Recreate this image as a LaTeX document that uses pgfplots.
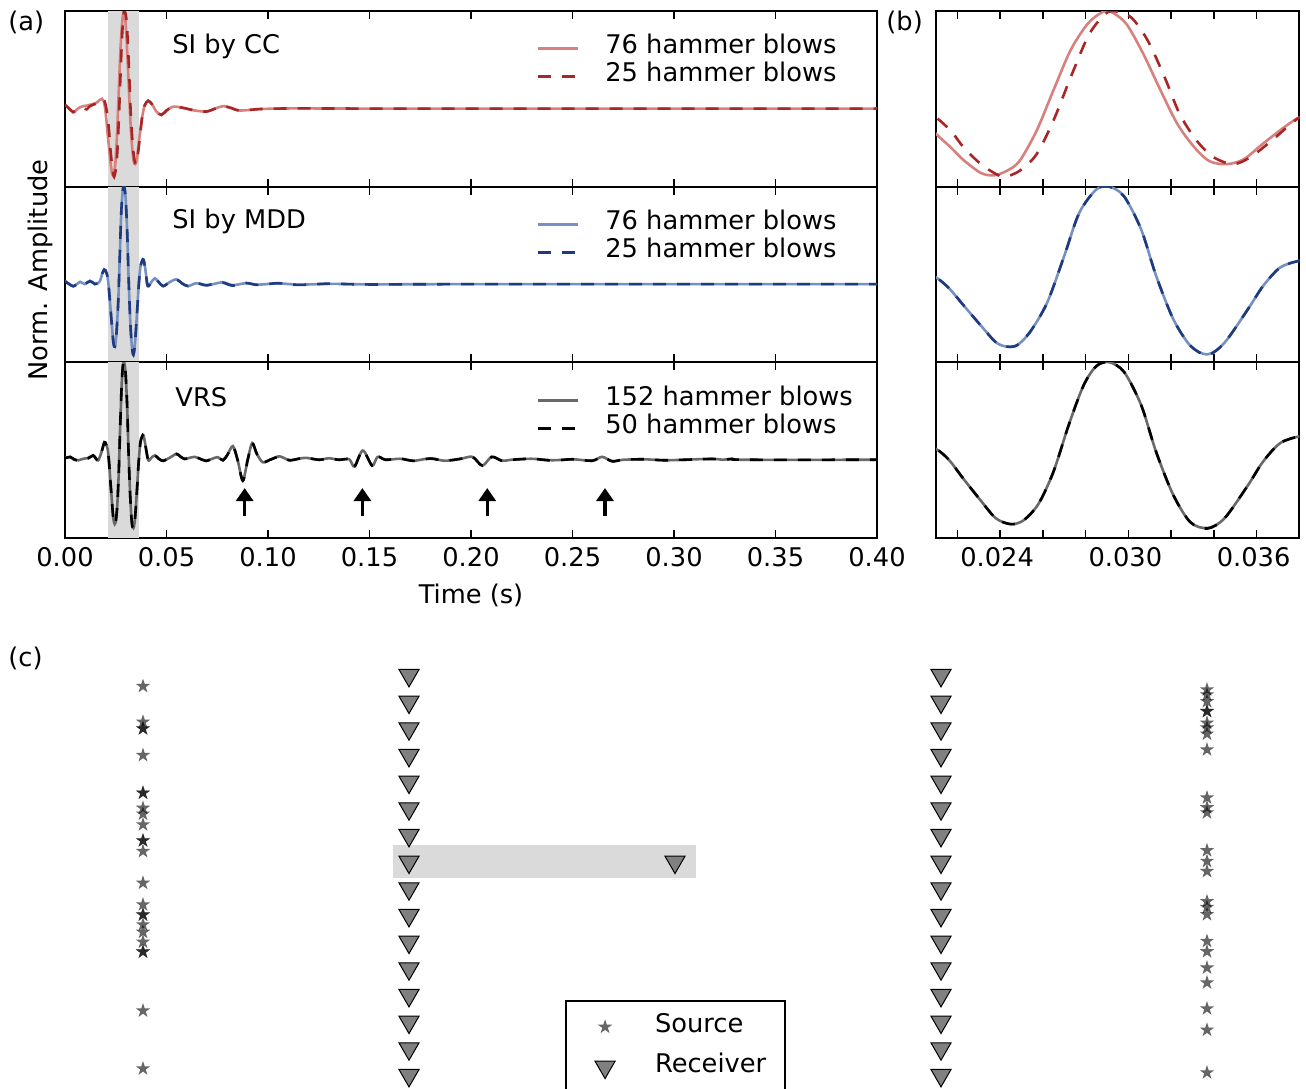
\documentclass[border=0pt]{standalone}
\usepackage{fontspec}
\setmainfont{DejaVu Sans}
\usepackage{pgfplots}
\pgfplotsset{compat=1.18}
\usepackage{pgfplotstable}
\usetikzlibrary{arrows.meta}

\definecolor{ccL}{RGB}{216,128,126}
\definecolor{ccD}{RGB}{168,38,38}
\definecolor{mdL}{RGB}{118,144,192}
\definecolor{mdD}{RGB}{30,58,128}
\definecolor{vrL}{RGB}{105,105,105}
\definecolor{vrD}{RGB}{0,0,0}
\definecolor{win}{RGB}{218,218,218}

\pgfdeclareplotmark{fstar}{%
  \pgfpathmoveto{\pgfpointpolar{90}{\pgfplotmarksize}}%
  \pgfpathlineto{\pgfpointpolar{126}{0.382\pgfplotmarksize}}%
  \pgfpathlineto{\pgfpointpolar{162}{\pgfplotmarksize}}%
  \pgfpathlineto{\pgfpointpolar{198}{0.382\pgfplotmarksize}}%
  \pgfpathlineto{\pgfpointpolar{234}{\pgfplotmarksize}}%
  \pgfpathlineto{\pgfpointpolar{270}{0.382\pgfplotmarksize}}%
  \pgfpathlineto{\pgfpointpolar{306}{\pgfplotmarksize}}%
  \pgfpathlineto{\pgfpointpolar{342}{0.382\pgfplotmarksize}}%
  \pgfpathlineto{\pgfpointpolar{18}{\pgfplotmarksize}}%
  \pgfpathlineto{\pgfpointpolar{54}{0.382\pgfplotmarksize}}%
  \pgfpathclose
  \pgfusepathqfill}

% ---------------- data ----------------
\pgfplotstableread{
t v
0.0000 0.040
0.0020 0.000
0.0041 -0.040
0.0058 -0.010
0.0074 0.014
0.0090 0.025
0.0107 0.030
0.0125 0.040
0.0139 0.048
0.0155 0.060
0.0172 0.090
0.0182 0.100
0.0190 0.080
0.0197 0.010
0.0204 -0.120
0.0210 -0.260
0.0217 -0.400
0.0223 -0.530
0.0231 -0.660
0.0237 -0.685
0.0243 -0.640
0.0249 -0.540
0.0257 -0.230
0.0265 0.190
0.0273 0.600
0.0281 0.870
0.0288 0.990
0.0292 0.990
0.0299 0.870
0.0307 0.560
0.0315 0.190
0.0323 -0.160
0.0331 -0.400
0.0338 -0.540
0.0346 -0.570
0.0354 -0.520
0.0363 -0.360
0.0373 -0.190
0.0380 -0.090
0.0392 0.030
0.0410 0.080
0.0430 0.040
0.0450 -0.030
0.0475 -0.065
0.0500 -0.020
0.0533 0.020
0.0582 0.007
0.0640 -0.020
0.0697 -0.030
0.0740 0.000
0.0779 0.025
0.0820 0.005
0.0861 -0.020
0.0960 -0.005
0.1058 0.000
0.1200 0.002
0.1500 0.000
0.4000 0.000
}\ccA

\pgfplotstableread{
t v
0.0000 0.040
0.0020 0.000
0.0041 -0.035
0.0058 -0.010
0.0074 0.010
0.0090 0.005
0.0107 -0.008
0.0120 0.020
0.0139 0.040
0.0155 0.050
0.0172 0.085
0.0185 0.100
0.0195 0.075
0.0203 0.010
0.0210 -0.090
0.0217 -0.230
0.0223 -0.400
0.0231 -0.570
0.0238 -0.670
0.0242 -0.700
0.0249 -0.640
0.0257 -0.470
0.0265 -0.120
0.0273 0.320
0.0281 0.735
0.0287 0.920
0.0292 1.000
0.0301 0.940
0.0309 0.700
0.0317 0.320
0.0324 -0.055
0.0332 -0.330
0.0340 -0.500
0.0349 -0.570
0.0357 -0.500
0.0367 -0.330
0.0380 -0.090
0.0392 0.030
0.0410 0.080
0.0430 0.040
0.0450 -0.030
0.0475 -0.065
0.0500 -0.020
0.0533 0.020
0.0582 0.007
0.0640 -0.020
0.0697 -0.030
0.0740 0.000
0.0779 0.025
0.0820 0.005
0.0861 -0.020
0.0960 -0.005
0.1058 0.000
0.1200 0.002
0.1500 0.000
0.4000 0.000
}\ccB

\pgfplotstableread{
t v
0.0000 0.035
0.0020 0.005
0.0041 -0.020
0.0058 0.000
0.0074 0.024
0.0086 0.012
0.0098 0.000
0.0111 0.020
0.0123 0.035
0.0135 0.018
0.0147 0.000
0.0160 0.005
0.0172 0.030
0.0184 0.110
0.0193 0.150
0.0200 0.140
0.0205 0.110
0.0210 0.070
0.0216 -0.040
0.0223 -0.220
0.0231 -0.425
0.0238 -0.595
0.0243 -0.640
0.0248 -0.625
0.0254 -0.490
0.0262 -0.190
0.0270 0.290
0.0277 0.730
0.0285 0.970
0.0291 1.000
0.0298 0.900
0.0306 0.560
0.0313 0.085
0.0321 -0.357
0.0329 -0.630
0.0337 -0.720
0.0345 -0.600
0.0356 -0.255
0.0363 -0.020
0.0371 0.170
0.0380 0.240
0.0387 0.250
0.0396 0.150
0.0405 0.000
0.0412 -0.020
0.0425 0.020
0.0443 0.060
0.0462 0.020
0.0484 -0.020
0.0515 0.020
0.0549 0.050
0.0575 0.010
0.0606 -0.020
0.0647 0.010
0.0696 -0.010
0.0740 0.005
0.0778 0.020
0.0827 -0.010
0.0892 0.010
0.0950 -0.005
0.1050 0.008
0.1150 -0.005
0.1300 0.003
0.1500 -0.002
0.2000 0.000
0.4000 0.000
}\mdA

\pgfplotstableread{
t v
0.0000 0.030
0.0020 0.000
0.0041 -0.022
0.0058 0.000
0.0074 0.020
0.0086 0.015
0.0098 0.002
0.0111 0.018
0.0123 0.030
0.0135 0.020
0.0147 0.002
0.0160 0.008
0.0172 0.030
0.0184 0.110
0.0193 0.150
0.0200 0.140
0.0205 0.110
0.0210 0.070
0.0216 -0.040
0.0223 -0.220
0.0231 -0.425
0.0238 -0.595
0.0243 -0.640
0.0248 -0.625
0.0254 -0.490
0.0262 -0.190
0.0270 0.290
0.0277 0.730
0.0285 0.970
0.0291 1.000
0.0298 0.900
0.0306 0.560
0.0313 0.085
0.0321 -0.357
0.0329 -0.630
0.0337 -0.725
0.0345 -0.600
0.0356 -0.255
0.0363 -0.020
0.0371 0.170
0.0380 0.240
0.0387 0.250
0.0396 0.150
0.0405 0.000
0.0412 -0.020
0.0425 0.020
0.0443 0.060
0.0462 0.020
0.0484 -0.020
0.0515 0.020
0.0549 0.050
0.0575 0.010
0.0606 -0.020
0.0647 0.010
0.0696 -0.012
0.0740 0.008
0.0778 0.015
0.0827 -0.015
0.0892 0.012
0.0950 -0.008
0.1050 0.010
0.1150 -0.008
0.1300 0.005
0.1500 -0.003
0.2000 0.000
0.4000 0.000
}\mdB

\pgfplotstableread{
t v
0.0000 0.020
0.0025 0.027
0.0045 0.000
0.0066 -0.005
0.0090 0.010
0.0115 0.020
0.0139 0.045
0.0152 0.015
0.0164 -0.005
0.0180 0.080
0.0194 0.180
0.0202 0.160
0.0210 0.110
0.0216 0.000
0.0223 -0.200
0.0231 -0.420
0.0238 -0.600
0.0245 -0.660
0.0251 -0.620
0.0258 -0.450
0.0265 -0.120
0.0272 0.350
0.0279 0.760
0.0285 0.960
0.0291 1.000
0.0298 0.900
0.0306 0.560
0.0313 0.080
0.0321 -0.360
0.0329 -0.640
0.0337 -0.700
0.0345 -0.600
0.0356 -0.260
0.0363 -0.020
0.0371 0.170
0.0380 0.240
0.0387 0.250
0.0396 0.150
0.0410 -0.005
0.0425 0.020
0.0443 0.045
0.0462 0.010
0.0484 -0.010
0.0515 0.020
0.0549 0.060
0.0570 0.030
0.0590 0.010
0.0615 0.020
0.0639 0.030
0.0665 0.010
0.0696 -0.010
0.0725 0.010
0.0753 0.027
0.0778 -0.005
0.0800 0.050
0.0827 0.140
0.0850 0.000
0.0876 -0.210
0.0900 0.000
0.0922 0.170
0.0945 0.060
0.0974 -0.025
0.1010 0.000
0.1056 0.035
0.1105 -0.005
0.1150 0.010
0.1187 0.020
0.1250 0.000
0.1300 0.015
0.1350 0.000
0.1400 0.005
0.1426 -0.070
0.1467 0.095
0.1513 -0.060
0.1540 0.030
0.1580 0.000
0.1650 0.010
0.1720 -0.010
0.1800 0.015
0.1870 -0.010
0.1950 0.010
0.2007 0.030
0.2056 -0.060
0.2102 0.030
0.2154 -0.010
0.2200 0.000
0.2300 0.010
0.2400 -0.005
0.2500 0.005
0.2597 -0.010
0.2646 0.030
0.2695 -0.015
0.2750 0.000
0.2850 0.005
0.2950 -0.005
0.3050 0.000
0.3187 0.010
0.3240 0.000
0.3286 0.010
0.3350 0.000
0.4000 0.000
}\vrA

\pgfplotstableread{
t v
0.0000 0.015
0.0025 0.030
0.0045 0.005
0.0066 -0.008
0.0090 0.012
0.0115 0.015
0.0139 0.045
0.0152 0.012
0.0164 -0.005
0.0180 0.080
0.0194 0.180
0.0202 0.160
0.0210 0.110
0.0216 0.000
0.0223 -0.200
0.0231 -0.420
0.0238 -0.600
0.0245 -0.660
0.0251 -0.620
0.0258 -0.450
0.0265 -0.120
0.0272 0.350
0.0279 0.760
0.0285 0.960
0.0291 1.000
0.0298 0.900
0.0306 0.560
0.0313 0.080
0.0321 -0.360
0.0329 -0.640
0.0337 -0.705
0.0345 -0.600
0.0356 -0.260
0.0363 -0.020
0.0371 0.170
0.0380 0.240
0.0387 0.250
0.0396 0.150
0.0410 -0.005
0.0425 0.020
0.0443 0.045
0.0462 0.010
0.0484 -0.012
0.0515 0.020
0.0549 0.060
0.0570 0.030
0.0590 0.008
0.0615 0.020
0.0639 0.032
0.0665 0.010
0.0696 -0.012
0.0725 0.010
0.0753 0.025
0.0778 -0.005
0.0800 0.050
0.0827 0.140
0.0850 0.000
0.0876 -0.215
0.0900 0.000
0.0922 0.170
0.0945 0.060
0.0974 -0.025
0.1010 0.000
0.1056 0.030
0.1105 -0.005
0.1150 0.010
0.1187 0.020
0.1250 0.000
0.1300 0.012
0.1350 0.000
0.1400 0.005
0.1426 -0.070
0.1467 0.095
0.1513 -0.060
0.1540 0.030
0.1580 0.000
0.1650 0.012
0.1720 -0.012
0.1800 0.012
0.1870 -0.010
0.1950 0.010
0.2007 0.030
0.2056 -0.060
0.2102 0.030
0.2154 -0.012
0.2200 0.000
0.2300 0.010
0.2400 -0.008
0.2500 0.005
0.2597 -0.010
0.2646 0.030
0.2695 -0.015
0.2750 0.000
0.2850 0.005
0.2950 -0.005
0.3050 0.000
0.3187 0.008
0.3240 0.000
0.3286 0.008
0.3350 0.000
0.4000 0.000
}\vrB

\pgfplotstableread{
x y
-2 -0.41
-2 -1.75
-2 -2.00
-2 -2.00
-2 -3.00
-2 -4.41
-2 -4.41
-2 -4.98
-2 -5.20
-2 -5.60
-2 -6.20
-2 -6.20
-2 -6.60
-2 -7.79
-2 -8.60
-2 -8.98
-2 -8.98
-2 -9.35
-2 -9.63
-2 -10.00
-2 -10.37
-2 -10.37
-2 -12.58
-2 -14.75
}\srcL

\pgfplotstableread{
x y
2 -0.54
2 -0.73
2 -0.98
2 -1.35
2 -1.35
2 -1.79
2 -1.97
2 -2.20
2 -2.79
2 -4.59
2 -4.96
2 -5.15
2 -6.57
2 -6.97
2 -7.35
2 -8.48
2 -8.70
2 -8.97
2 -9.97
2 -10.36
2 -10.97
2 -11.53
2 -12.50
2 -13.30
2 -14.90
}\srcR

\pgfplotstableread{
x y
-1 0
-1 -1
-1 -2
-1 -3
-1 -4
-1 -5
-1 -6
-1 -7
-1 -8
-1 -9
-1 -10
-1 -11
-1 -12
-1 -13
-1 -14
-1 -15
-1 -16
}\recL

\pgfplotstableread{
x y
1 0
1 -1
1 -2
1 -3
1 -4
1 -5
1 -6
1 -7
1 -8
1 -9
1 -10
1 -11
1 -12
1 -13
1 -14
1 -15
1 -16
}\recR

\pgfplotsset{
  apanel/.style={scale only axis, width=406pt, height=87.8pt,
    xmin=0, xmax=0.4, ymin=-0.8, ymax=1.0,
    xtick={0,0.05,0.1,0.15,0.2,0.25,0.3,0.35,0.4}, ytick=\empty,
    xticklabels={}, xtick align=inside, scaled x ticks=false,
    tick style={black, line width=0.8pt}, major tick length=4pt,
    axis line style={line width=1pt},
    legend cell align=left,
    legend image code/.code={\draw[##1] (0pt,0pt) -- (20pt,0pt);},
    legend style={draw=none, fill=none, inner sep=0pt, row sep=0pt,
      nodes={inner sep=0pt, text height=9.5pt, text depth=4.5pt, anchor=west},
      /tikz/every odd column/.append style={column sep=13pt}},
  },
  bpanel/.style={scale only axis, width=181.65pt, height=87.8pt,
    xmin=0.021, xmax=0.038, ymin=-0.8, ymax=1.0,
    xtick={0.024,0.030,0.036}, minor xtick={0.022,0.026,0.028,0.032,0.034},
    ytick=\empty, xticklabels={}, xtick align=inside, scaled x ticks=false,
    tick style={black, line width=0.8pt}, major tick length=4pt, minor tick length=4pt,
    axis line style={line width=1pt},
  },
  markleg/.style={legend image code/.code={\path[draw=none,fill=none] (-10pt,-5pt) rectangle (10pt,5pt); \draw[##1] plot coordinates {(0pt,0pt)};}},
  solidtr/.style={line width=1.3pt, smooth},
  dashtr/.style={line width=1.3pt, smooth, dash pattern=on 6.5pt off 5.5pt},
}

\begin{document}
\fontsize{12.85}{15.4}\selectfont
\begin{tikzpicture}
\useasboundingbox (0,0) rectangle (653pt,-544pt);
\clip (0,0) rectangle (653pt,-544pt);

% ---------- (a) top ----------
\begin{axis}[apanel, at={(32.5pt,-5.5pt)}, anchor=north west,
  legend style={at={(0.5805,0.869)}, anchor=north west}]
\addplot[fill=win, draw=none, forget plot] coordinates {(0.021,-0.8) (0.0364,-0.8) (0.0364,1) (0.021,1)} -- cycle;
\addplot[ccL, solidtr] table[x=t,y=v] {\ccA};
\addlegendentry{76 hammer blows}
\addplot[ccD, dashtr] table[x=t,y=v] {\ccB};
\addlegendentry{25 hammer blows}
\node[anchor=west, inner sep=0pt] at (axis description cs:0.1318,0.80) {SI by CC};
\end{axis}

% ---------- (a) middle ----------
\begin{axis}[apanel, at={(32.5pt,-93.3pt)}, anchor=north west,
  legend style={at={(0.5805,0.866)}, anchor=north west}]
\addplot[fill=win, draw=none, forget plot] coordinates {(0.021,-0.8) (0.0364,-0.8) (0.0364,1) (0.021,1)} -- cycle;
\addplot[mdL, solidtr] table[x=t,y=v] {\mdA};
\addlegendentry{76 hammer blows}
\addplot[mdD, dashtr] table[x=t,y=v] {\mdB};
\addlegendentry{25 hammer blows}
\node[anchor=west, inner sep=0pt] at (axis description cs:0.1318,0.80) {SI by MDD};
\end{axis}

% ---------- (a) bottom ----------
\begin{axis}[apanel, at={(32.5pt,-181.1pt)}, anchor=north west,
  xticklabels={0.00,0.05,0.10,0.15,0.20,0.25,0.30,0.35,0.40},
  xticklabel style={yshift=-0.5pt},
  xlabel={Time (s)}, xlabel style={at={(0.5,0)}, anchor=center, yshift=-29pt},
  legend style={at={(0.5805,0.863)}, anchor=north west}]
\addplot[fill=win, draw=none, forget plot] coordinates {(0.021,-0.8) (0.0364,-0.8) (0.0364,1) (0.021,1)} -- cycle;
\addplot[vrL, solidtr] table[x=t,y=v] {\vrA};
\addlegendentry{152 hammer blows}
\addplot[vrD, dashtr] table[x=t,y=v] {\vrB};
\addlegendentry{50 hammer blows}
\node[anchor=west, inner sep=0pt] at (axis description cs:0.1355,0.80) {VRS};
\draw[-{Triangle[width=8.5pt,length=6.5pt]}, line width=1.6pt] (axis cs:0.0885,-0.58) -- (axis cs:0.0885,-0.29);
\draw[-{Triangle[width=8.5pt,length=6.5pt]}, line width=1.6pt] (axis cs:0.1465,-0.58) -- (axis cs:0.1465,-0.29);
\draw[-{Triangle[width=8.5pt,length=6.5pt]}, line width=1.6pt] (axis cs:0.208,-0.58) -- (axis cs:0.208,-0.29);
\draw[-{Triangle[width=8.5pt,length=6.5pt]}, line width=1.6pt] (axis cs:0.266,-0.58) -- (axis cs:0.266,-0.29);
\end{axis}

% ---------- (b) ----------
\begin{axis}[bpanel, at={(468pt,-5.5pt)}, anchor=north west]
\addplot[ccL, solidtr] table[x=t,y=v] {\ccA};
\addplot[ccD, dashtr] table[x=t,y=v] {\ccB};
\end{axis}
\begin{axis}[bpanel, at={(468pt,-93.3pt)}, anchor=north west]
\addplot[mdL, solidtr] table[x=t,y=v] {\mdA};
\addplot[mdD, dashtr] table[x=t,y=v] {\mdB};
\end{axis}
\begin{axis}[bpanel, at={(468pt,-181.1pt)}, anchor=north west,
  xticklabels={0.024,0.030,0.036}, xticklabel style={yshift=-0.5pt, xshift=-1.5pt}]
\addplot[vrL, solidtr] table[x=t,y=v] {\vrA};
\addplot[vrD, dashtr] table[x=t,y=v] {\vrB};
\end{axis}

% ---------- (c) ----------
\begin{axis}[scale only axis, width=638.4pt, height=240pt, at={(18.3pt,-324.3pt)}, anchor=north west,
  xmin=-2.4, xmax=2.4, ymin=-17, ymax=1, hide axis, clip=false,
  legend cell align=left, markleg,
  legend style={at={(0.4139,0.268)}, anchor=north west, draw=black, line width=1pt,
    fill=white, inner xsep=9.5pt, inner ysep=6pt, row sep=6pt,
    nodes={inner sep=0pt, text height=10pt, text depth=4pt, anchor=west},
    /tikz/every odd column/.append style={column sep=15pt}}]
\addplot[fill=win, draw=none, forget plot] coordinates {(-1.06,-6.36) (0.08,-6.36) (0.08,-7.6) (-1.06,-7.6)} -- cycle;
\addplot[only marks, mark=fstar, mark size=3.8pt, black, opacity=0.6] table[x=x,y=y] {\srcL};
\addlegendentry{Source}
\addplot[only marks, mark=triangle*, mark size=5.8pt, mark options={rotate=180, fill=gray, draw=black, line width=0.5pt}] table[x=x,y=y] {\recL};
\addlegendentry{Receiver}
\addplot[only marks, mark=fstar, mark size=3.8pt, black, opacity=0.6, forget plot] table[x=x,y=y] {\srcR};
\addplot[only marks, mark=triangle*, mark size=5.8pt, mark options={rotate=180, fill=gray, draw=black, line width=0.5pt}, forget plot] table[x=x,y=y] {\recR};
\addplot[only marks, mark=triangle*, mark size=5.8pt, mark options={rotate=180, fill=gray, draw=black, line width=0.5pt}, forget plot] coordinates {(0,-7)};
\end{axis}

% ---------- labels ----------
\node[anchor=west, inner sep=0pt] at (4pt,-11pt) {(a)};
\node[anchor=west, inner sep=0pt] at (443pt,-11pt) {(b)};
\node[anchor=west, inner sep=0pt] at (4pt,-329pt) {(c)};
\node[rotate=90, inner sep=0pt] at (20pt,-135pt) {Norm. Amplitude};
\end{tikzpicture}
\end{document}
